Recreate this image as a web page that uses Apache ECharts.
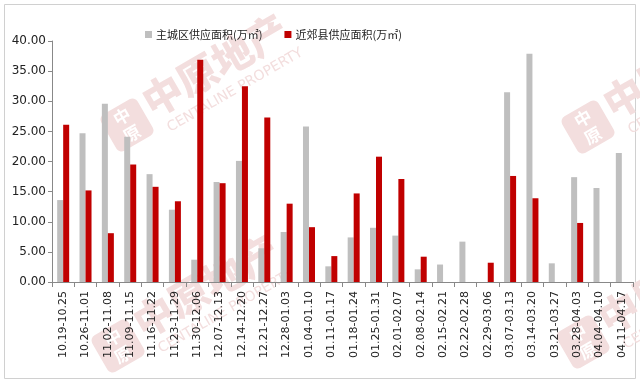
<!DOCTYPE html>
<html><head><meta charset="utf-8">
<script src="https://cdn.jsdelivr.net/npm/echarts@6/dist/echarts.min.js"></script>
<style>html,body{margin:0;padding:0;background:#fff}#c{width:640px;height:383px}</style>
</head><body><div id="c"></div>
<script>
const categories = ['10.19-10.25','10.26-11.01','11.02-11.08','11.09-11.15','11.16-11.22','11.23-11.29','11.30-12.06','12.07-12.13','12.14-12.20','12.21-12.27','12.28-01.03','01.04-01.10','01.11-01.17','01.18-01.24','01.25-01.31','02.01-02.07','02.08-02.14','02.15-02.21','02.22-02.28','02.29-03.06','03.07-03.13','03.14-03.20','03.21-03.27','03.28-04.03','04.04-04.10','04.11-04.17'];
const mainCity = [13.6,24.7,29.6,24.1,17.9,12.0,3.7,16.6,20.1,5.6,8.3,25.8,2.6,7.4,9.0,7.7,2.1,2.9,6.7,null,31.5,37.9,3.1,17.4,15.6,21.4];
const suburb = [26.1,15.2,8.1,19.5,15.8,13.4,36.9,16.4,32.5,27.3,13.0,9.1,4.3,14.7,20.8,17.1,4.2,null,null,3.2,17.6,13.9,null,9.8,null,null];
const seriesNames = ['主城区供应面积(万㎡)','近郊县供应面积(万㎡)'];
const yTicks = {min:0, max:40, interval:5};
const watermarkText = ['中原地产','CENTALINE PROPERTY','中','原'];

const wmColor = '#f3dede';
function watermark(cx, cy){
  return {
    type:'group', x:cx, y:cy, rotation:Math.PI/6, z:-10, silent:true,
    children:[
      {type:'rect', shape:{x:-21,y:-21,width:42,height:42,r:6}, style:{fill:wmColor}},
      {type:'text', x:0, y:-10, style:{text:watermarkText[2], fill:'#fff', font:'bold 17px "Noto Sans CJK SC"', align:'center', verticalAlign:'middle'}},
      {type:'text', x:0, y:10, style:{text:watermarkText[3], fill:'#fff', font:'bold 17px "Noto Sans CJK SC"', align:'center', verticalAlign:'middle'}},
      {type:'text', x:26, y:-8, style:{text:watermarkText[0], fill:wmColor, font:'900 40px "Noto Sans CJK SC"', verticalAlign:'middle'}},
      {type:'text', x:34, y:24, style:{text:watermarkText[1], fill:wmColor, font:'14px "DejaVu Sans"', verticalAlign:'middle'}}
    ]
  };
}

const chart = echarts.init(document.getElementById('c'), null, {renderer:'canvas'});
const font = 'DejaVu Sans';
chart.setOption({
  animation:false,
  backgroundColor:'#fff',
  graphic:[
    {type:'rect',shape:{x:4.5,y:4.5,width:631,height:374},style:{fill:'none',stroke:'#d0d0d0',lineWidth:1},z:-20},
    watermark(127,125), watermark(588,127), watermark(118,346), watermark(583,342)
  ],
  legend:{
    top:24, left:140, itemWidth:7, itemHeight:7, itemGap:22, icon:'rect',
    textStyle:{fontFamily:'Noto Sans CJK SC', fontSize:11, color:'#222', padding:[0,0,0,-1]},
    data:seriesNames
  },
  grid:{left:52, right:7, top:41, bottom:101},
  xAxis:{
    type:'category', data:categories,
    axisLine:{lineStyle:{color:'#888'}},
    axisTick:{show:true, length:5, lineStyle:{color:'#888'}},
    axisLabel:{rotate:90, interval:0, fontFamily:font, fontSize:11, color:'#222', margin:9}
  },
  yAxis:{
    type:'value', min:yTicks.min, max:yTicks.max, interval:yTicks.interval,
    splitLine:{show:false},
    axisLine:{show:true, lineStyle:{color:'#888'}},
    axisTick:{show:true, length:4, lineStyle:{color:'#888'}},
    axisLabel:{formatter:v=>v.toFixed(2), fontFamily:font, fontSize:12, color:'#222', margin:6}
  },
  series:[
    {name:seriesNames[0], type:'bar', data:mainCity, barWidth:6, barGap:'0%', itemStyle:{color:'#bfbfbf'}},
    {name:seriesNames[1], type:'bar', data:suburb, barWidth:6, barGap:'0%', itemStyle:{color:'#c00000'}}
  ]
});
</script></body></html>
